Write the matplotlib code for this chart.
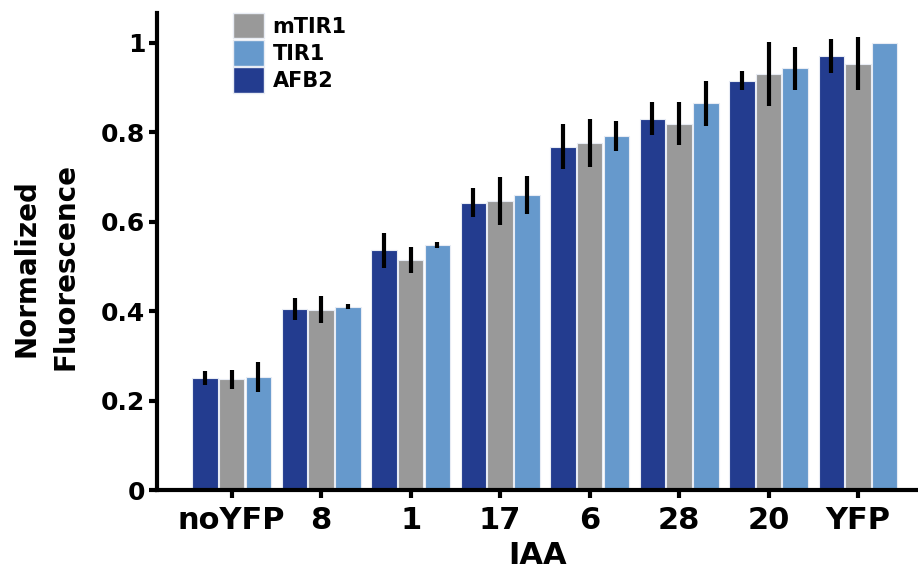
import numpy as np
import matplotlib
matplotlib.use("Agg")
import matplotlib.pyplot as plt
from matplotlib.patches import Patch

plt.rcParams['font.family'] = ['DejaVu Sans']
plt.rcParams['font.weight'] = 'bold'

# data
groups = ['noYFP', '8', '1', '17', '6', '28', '20', 'YFP']
afb2 = [0.251, 0.405, 0.536, 0.642, 0.767, 0.830, 0.915, 0.971]
afb2_err = [0.016, 0.025, 0.039, 0.033, 0.050, 0.036, 0.022, 0.038]
mtir1 = [0.247, 0.403, 0.514, 0.646, 0.775, 0.819, 0.930, 0.953]
mtir1_err = [0.021, 0.030, 0.029, 0.054, 0.054, 0.048, 0.072, 0.060]
tir1 = [0.253, 0.410, 0.547, 0.659, 0.791, 0.864, 0.943, 0.998]
tir1_err = [0.034, 0.006, 0.007, 0.043, 0.034, 0.050, 0.048, 0.0]

c_afb2 = '#233c8f'
c_mtir1 = '#999999'
c_tir1 = '#6699cc'
edge = '#e8ecf4'

fig = plt.figure(figsize=(9.18, 5.71), dpi=100)
ax = fig.add_axes([157/918, 81/571, 1 - 157/918, (490-13)/571])

x = np.arange(len(groups))
step = 0.298
width = 0.285
series = [(afb2, afb2_err, c_afb2, -step), (mtir1, mtir1_err, c_mtir1, 0), (tir1, tir1_err, c_tir1, step)]
for vals, errs, col, off in series:
    ax.bar(x + off, vals, width, color=col, edgecolor=edge, linewidth=0.8, zorder=1)
    ax.errorbar(x + off, vals, yerr=errs, fmt='none', ecolor='black', elinewidth=3.0,
                capsize=0, zorder=2)

ax.set_xlim(-0.835, 7.67)
ax.set_ylim(0, 1.066)
ax.set_yticks([0, 0.2, 0.4, 0.6, 0.8, 1.0])
ax.set_yticklabels(['0', '0.2', '0.4', '0.6', '0.8', '1'])
ax.set_xticks(x)
ax.set_xticklabels(groups)

for s in ['top', 'right']:
    ax.spines[s].set_visible(False)
for s in ['left', 'bottom']:
    ax.spines[s].set_linewidth(3)
ax.tick_params(axis='both', width=3, length=5.5, direction='out')
ax.tick_params(axis='x', labelsize=22, pad=6)
ax.tick_params(axis='y', labelsize=18, pad=3)

ax.set_xlabel('IAA', fontsize=22, fontweight='bold', labelpad=4)
fig.text(27/918, 1 - 268/571, 'Normalized', rotation=90, fontsize=20,
         fontweight='bold', ha='center', va='center')
fig.text(66/918, 1 - 266/571, 'Fluorescence', rotation=90, fontsize=20,
         fontweight='bold', ha='center', va='center')

handles = [Patch(facecolor=c_mtir1, edgecolor=edge),
           Patch(facecolor=c_tir1, edgecolor=edge),
           Patch(facecolor=c_afb2, edgecolor=edge)]
fig.legend(handles, ['mTIR1', 'TIR1', 'AFB2'], loc='upper left',
           bbox_to_anchor=(233/918, 1 - 13/571), frameon=False, fontsize=15,
           handlelength=1.5, handleheight=1.5, labelspacing=0.08,
           handletextpad=0.4, borderpad=0, borderaxespad=0)

fig.savefig('out.png', dpi=100)
